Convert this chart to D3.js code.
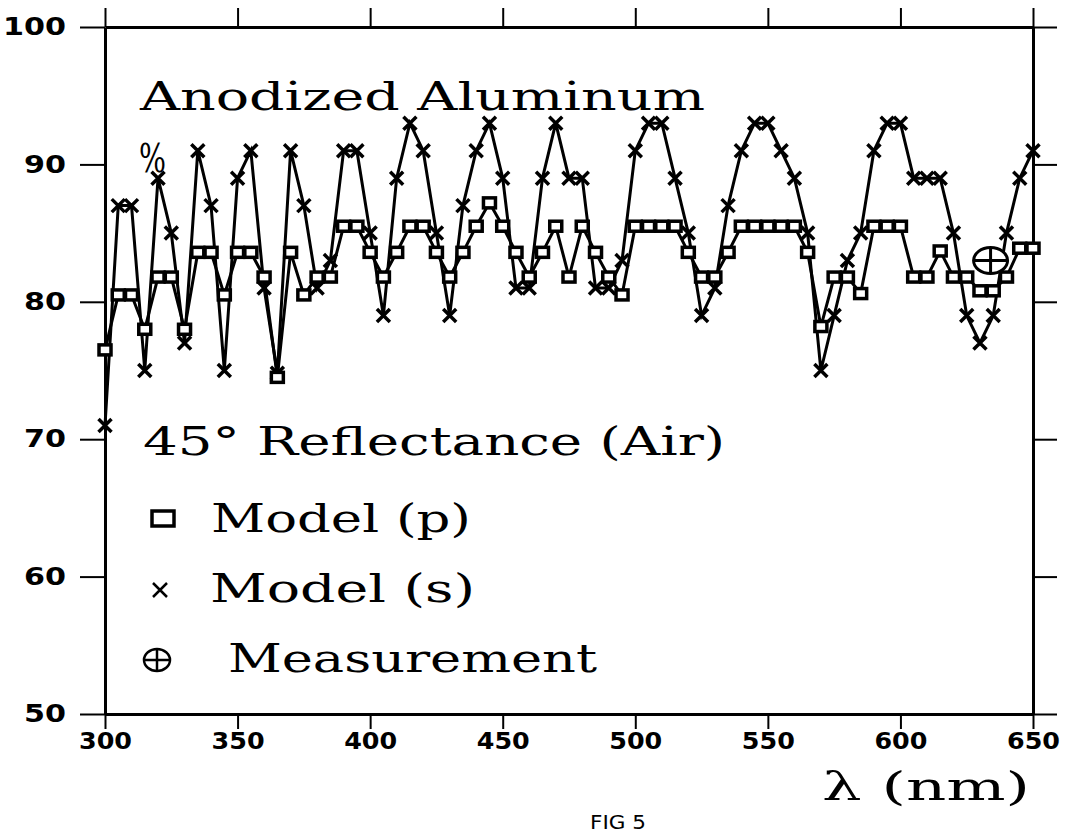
<!DOCTYPE html>
<html>
<head>
<meta charset="utf-8">
<script src="https://cdn.jsdelivr.net/npm/d3@7/dist/d3.min.js"></script>
<style>
  body { margin: 0; background: #fff; }
  svg { display: block; }
</style>
</head>
<body>
<div id="chart"></div>
<script>
// wavelength grid (nm)
const wavelengths = [300, 305, 310, 315, 320, 325, 330, 335, 340, 345, 350, 355, 360, 365, 370, 375,
  380, 385, 390, 395, 400, 405, 410, 415, 420, 425, 430, 435, 440, 445, 450, 455, 460, 465, 470,
  475, 480, 485, 490, 495, 500, 505, 510, 515, 520, 525, 530, 535, 540, 545, 550, 555, 560, 565,
  570, 575, 580, 585, 590, 595, 600, 605, 610, 615, 620, 625, 630, 635, 640, 645, 650];

// Model (p) reflectance, %
const modelP = [76.5, 80.5, 80.5, 78, 81.8, 81.8, 78, 83.6, 83.6, 80.5, 83.6, 83.6, 81.8, 74.5, 83.6, 80.5,
  81.8, 81.8, 85.5, 85.5, 83.6, 81.8, 83.6, 85.5, 85.5, 83.6, 81.8, 83.6, 85.5, 87.2, 85.5, 83.6, 81.8, 83.6, 85.5,
  81.8, 85.5, 83.6, 81.8, 80.5, 85.5, 85.5, 85.5, 85.5, 83.6, 81.8, 81.8, 83.6, 85.5, 85.5, 85.5, 85.5, 85.5, 83.6,
  78.2, 81.8, 81.8, 80.6, 85.5, 85.5, 85.5, 81.8, 81.8, 83.7, 81.8, 81.8, 80.8, 80.8, 81.8, 83.9, 83.9];

// Model (s) reflectance, %
const modelS = [71, 87, 87, 75, 89, 85, 77, 91, 87, 75, 89, 91, 81, 74.8, 91, 87,
  81, 83, 91, 91, 85, 79, 89, 93, 91, 85, 79, 87, 91, 93, 89, 81, 81, 89, 93,
  89, 89, 81, 81, 83, 91, 93, 93, 89, 85, 79, 81, 87, 91, 93, 93, 91, 89, 85,
  75, 79, 83, 85, 91, 93, 93, 89, 89, 89, 85, 79, 77, 79, 85, 89, 91];

// single measured point
const measurement = [{ wl: 634, r: 83 }];

const xTicks = [300, 350, 400, 450, 500, 550, 600, 650];
const yTicks = [50, 60, 70, 80, 90, 100];

const width = 1073, height = 833;
const serif = '"DejaVu Serif", "Liberation Serif", serif';
const tickFont = '"DejaVu Sans", "Liberation Sans", sans-serif';

const svg = d3.select('#chart').append('svg')
  .attr('width', width)
  .attr('height', height);

const x = d3.scaleLinear().domain([300, 650]).range([105, 1033]);
const y = d3.scaleLinear().domain([50, 100]).range([714, 27]);

// frame + ticks, all ticks pointing outwards
const axBottom = svg.append('g')
  .attr('transform', 'translate(0,' + y(50) + ')')
  .call(d3.axisBottom(x).tickValues(xTicks).tickSize(15).tickSizeOuter(0).tickPadding(4));
const axTop = svg.append('g')
  .attr('transform', 'translate(0,' + y(100) + ')')
  .call(d3.axisTop(x).tickValues(xTicks).tickSize(19).tickSizeOuter(0).tickFormat(''));
const axLeft = svg.append('g')
  .attr('transform', 'translate(' + x(300) + ',0)')
  .call(d3.axisLeft(y).tickValues(yTicks).tickSize(25).tickSizeOuter(0).tickPadding(14));
const axRight = svg.append('g')
  .attr('transform', 'translate(' + x(650) + ',0)')
  .call(d3.axisRight(y).tickValues(yTicks).tickSize(24).tickSizeOuter(0).tickFormat(''));

[axBottom, axTop, axLeft, axRight].forEach(function (g) {
  g.select('.domain').attr('stroke', '#000').attr('stroke-width', 3);
  g.selectAll('.tick line').attr('stroke', '#000').attr('stroke-width', 2);
});

axBottom.selectAll('.tick text')
  .attr('font-family', tickFont).attr('font-weight', 'bold').attr('font-size', 23)
  .attr('fill', '#000')
  .attr('textLength', 53).attr('lengthAdjust', 'spacingAndGlyphs')
  .attr('x', -26.5).attr('text-anchor', 'start');

axLeft.selectAll('.tick text')
  .attr('font-family', tickFont).attr('font-weight', 'bold').attr('font-size', 24)
  .attr('fill', '#000')
  .attr('textLength', function (d) { return String(d).length * 21; })
  .attr('lengthAdjust', 'spacingAndGlyphs');

// data series
const pts = function (vals) {
  return wavelengths.map(function (w, i) { return [w, vals[i]]; });
};
const line = d3.line().x(function (d) { return x(d[0]); }).y(function (d) { return y(d[1]); });

svg.append('path').datum(pts(modelS))
  .attr('d', line).attr('fill', 'none').attr('stroke', '#000').attr('stroke-width', 3);
svg.append('path').datum(pts(modelP))
  .attr('d', line).attr('fill', 'none').attr('stroke', '#000').attr('stroke-width', 3);

const cross = function (s) {
  return 'M' + (-s) + ',' + (-s) + 'L' + s + ',' + s + 'M' + (-s) + ',' + s + 'L' + s + ',' + (-s);
};

svg.append('g').selectAll('path')
  .data(pts(modelS))
  .enter().append('path')
  .attr('transform', function (d) { return 'translate(' + x(d[0]) + ',' + y(d[1]) + ')'; })
  .attr('d', cross(6.5))
  .attr('stroke', '#000').attr('stroke-width', 3.5).attr('fill', 'none');

svg.append('g').selectAll('rect')
  .data(pts(modelP))
  .enter().append('rect')
  .attr('x', function (d) { return x(d[0]) - 6; })
  .attr('y', function (d) { return y(d[1]) - 5; })
  .attr('width', 12).attr('height', 10)
  .attr('fill', '#fff').attr('stroke', '#000').attr('stroke-width', 3.5);

// measurement marker (circle with cross)
const meas = svg.append('g').selectAll('g')
  .data(measurement)
  .enter().append('g')
  .attr('transform', function (d) { return 'translate(' + x(d.wl) + ',' + y(d.r) + ')'; });
meas.append('ellipse').attr('rx', 17).attr('ry', 13)
  .attr('fill', '#fff').attr('stroke', '#000').attr('stroke-width', 3);
meas.append('path').attr('d', 'M-17,0H17M0,-13V13')
  .attr('stroke', '#000').attr('stroke-width', 3);

// texts
const label = function (txt, tx, ty, size, len) {
  return svg.append('text')
    .attr('x', tx).attr('y', ty)
    .attr('font-family', serif).attr('font-size', size)
    .attr('fill', '#000')
    .attr('textLength', len).attr('lengthAdjust', 'spacingAndGlyphs')
    .text(txt);
};

label('Anodized Aluminum', 140, 110, 40, 565);
label('%', 139, 172, 40, 27);
label('45° Reflectance (Air)', 143, 455, 40, 582);
label('Model (p)', 211, 532, 40, 260);
label('Model (s)', 210, 602, 40, 265);
label('Measurement', 228, 672, 40, 369);
label('λ (nm)', 822, 800, 40, 208);
label('FIG 5', 590, 829, 20, 56).attr('font-family', tickFont);

// legend symbols
svg.append('rect').attr('x', 152).attr('y', 511).attr('width', 22).attr('height', 15)
  .attr('fill', '#fff').attr('stroke', '#000').attr('stroke-width', 3.5);
svg.append('path').attr('transform', 'translate(160,590)').attr('d', cross(7))
  .attr('stroke', '#000').attr('stroke-width', 2.5);
svg.append('ellipse').attr('cx', 157).attr('cy', 660).attr('rx', 13).attr('ry', 11)
  .attr('fill', 'none').attr('stroke', '#000').attr('stroke-width', 2.5);
svg.append('path').attr('d', 'M144,660H170M157,649V671')
  .attr('stroke', '#000').attr('stroke-width', 2.5);
</script>
</body>
</html>
